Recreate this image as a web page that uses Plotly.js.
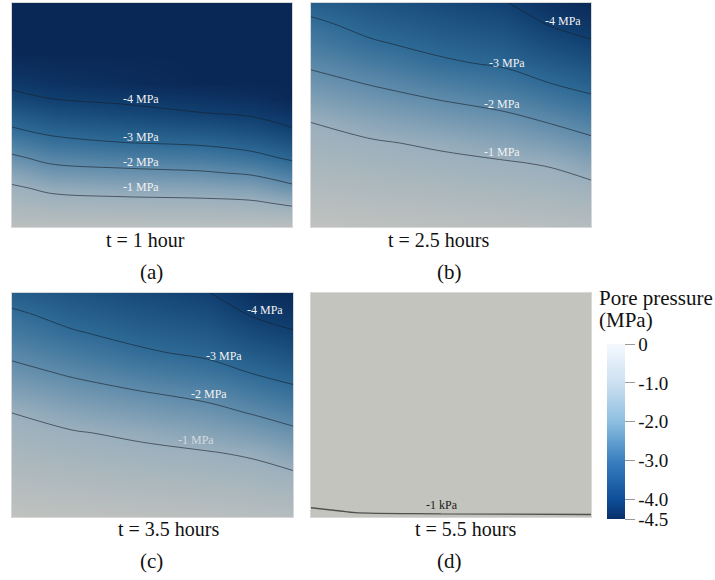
<!DOCTYPE html>
<html><head><meta charset="utf-8">
<script src="https://cdn.plot.ly/plotly-3.0.1.min.js"></script>
<style>html,body{margin:0;padding:0;background:#fff}#chart{width:715px;height:580px}</style>
</head><body><div id="chart"></div>
<script>
// ---------- DATA (pore pressure, MPa) ----------
// grid columns: distance across panel; rows: depth from panel top
const xA = [0, 40, 110, 190, 240, 280];
const yA = [0, 50, 80, 95, 110, 125, 140, 155, 170, 185, 200, 212, 224];
const zA = [
 [-4.5, -4.5, -4.5, -4.5, -4.5, -4.5],
 [-4.5, -4.5, -4.5, -4.5, -4.5, -4.5],
 [-4.15, -4.27, -4.38, -4.5, -4.5, -4.5],
 [-3.82, -4.02, -4.13, -4.25, -4.33, -4.5],
 [-3.40, -3.63, -3.81, -3.99, -4.09, -4.25],
 [-2.97, -3.24, -3.40, -3.55, -3.72, -3.99],
 [-2.41, -2.78, -2.98, -3.10, -3.29, -3.55],
 [-1.86, -2.22, -2.39, -2.52, -2.77, -3.11],
 [-1.33, -1.68, -1.81, -1.92, -2.09, -2.49],
 [-0.90, -1.14, -1.26, -1.34, -1.47, -1.82],
 [-0.65, -0.76, -0.81, -0.84, -0.90, -1.12],
 [-0.45, -0.51, -0.53, -0.55, -0.57, -0.67],
 [-0.25, -0.25, -0.25, -0.25, -0.25, -0.25]
];

const xB = [0, 60, 130, 195, 240, 280];
const yB = [0, 20, 40, 60, 80, 100, 120, 140, 160, 180, 200, 224];
const zB = [
 [-3.26, -3.50, -3.75, -3.98, -4.30, -4.45],
 [-2.88, -3.23, -3.48, -3.69, -4.06, -4.21],
 [-2.51, -2.93, -3.21, -3.40, -3.73, -3.95],
 [-2.13, -2.49, -2.90, -3.11, -3.37, -3.59],
 [-1.75, -2.05, -2.42, -2.69, -3.01, -3.23],
 [-1.37, -1.65, -1.94, -2.20, -2.52, -2.81],
 [-0.99, -1.26, -1.52, -1.75, -2.02, -2.31],
 [-0.82, -0.93, -1.10, -1.33, -1.54, -1.82],
 [-0.65, -0.75, -0.85, -0.95, -1.06, -1.35],
 [-0.48, -0.56, -0.64, -0.73, -0.80, -0.94],
 [-0.31, -0.37, -0.44, -0.51, -0.57, -0.67],
 [-0.10, -0.15, -0.20, -0.25, -0.30, -0.35]
];

const xC = [0, 60, 130, 195, 240, 280];
const yC = [0, 20, 40, 60, 80, 100, 120, 140, 160, 180, 200, 224];
const zC = [
 [-3.29, -3.51, -3.76, -3.98, -4.31, -4.46],
 [-2.91, -3.24, -3.49, -3.70, -4.07, -4.22],
 [-2.53, -2.94, -3.22, -3.41, -3.74, -3.96],
 [-2.15, -2.52, -2.91, -3.13, -3.39, -3.60],
 [-1.77, -2.09, -2.45, -2.71, -3.02, -3.24],
 [-1.38, -1.69, -1.96, -2.21, -2.53, -2.82],
 [-1.00, -1.29, -1.54, -1.77, -2.04, -2.32],
 [-0.82, -0.95, -1.12, -1.35, -1.56, -1.83],
 [-0.65, -0.76, -0.86, -0.96, -1.08, -1.36],
 [-0.48, -0.57, -0.65, -0.74, -0.81, -0.95],
 [-0.31, -0.38, -0.45, -0.52, -0.58, -0.68],
 [-0.10, -0.15, -0.20, -0.25, -0.30, -0.35]
];

const xD = [0, 44, 130, 280];
const yD = [0, 110, 200, 212, 218, 222, 224];
const zD = [
 [-0.0002, -0.0002, -0.0002, -0.0002],
 [-0.0005, -0.0005, -0.0005, -0.0005],
 [-0.0008, -0.0008, -0.0008, -0.0008],
 [-0.00095, -0.00090, -0.00088, -0.00085],
 [-0.00106, -0.00097, -0.00095, -0.00093],
 [-0.00112, -0.00104, -0.00102, -0.00101],
 [-0.00115, -0.00108, -0.00106, -0.00104]
];

const panelTimes = ['t = 1 hour', 't = 2.5 hours', 't = 3.5 hours', 't = 5.5 hours'];
const panelLetters = ['(a)', '(b)', '(c)', '(d)'];
const labelsA = ['-4 MPa', '-3 MPa', '-2 MPa', '-1 MPa'];
const labelsB = ['-4 MPa', '-3 MPa', '-2 MPa', '-1 MPa'];
const labelsC = ['-4 MPa', '-3 MPa', '-2 MPa', '-1 MPa'];
const labelsD = ['-1 kPa'];
const barTicks = [0, -1, -2, -3, -4, -4.5];
const barTickText = ['0', '-1.0', '-2.0', '-3.0', '-4.0', '-4.5'];
const barTitle = ['Pore pressure', '(MPa)'];

// ---------- STYLE ----------
const FONT = 'Liberation Serif, Times New Roman, serif';
const panelScale = [
 [0, 'rgb(10,40,86)'], [0.111, 'rgb(16,63,112)'], [0.333, 'rgb(46,106,150)'],
 [0.556, 'rgb(96,140,171)'], [0.778, 'rgb(154,175,189)'], [1, 'rgb(196,196,190)']
];
const barScale = [
 [0, '#08306b'], [0.111, '#0d4e98'], [0.333, '#3a80c0'],
 [0.556, '#8dbfe0'], [0.778, '#cde0f1'], [1, '#f5f9fe']
];
const W = 715, H = 580;
const doms = [
 {x: [12, 292], y: [3, 227]}, {x: [311, 591], y: [3, 227]},
 {x: [12, 293], y: [293, 517]}, {x: [311, 591], y: [293, 517]}
];
const grids = [[xA, yA, zA], [xB, yB, zB], [xC, yC, zC], [xD, yD, zD]];
const contourSets = [
 {start: -4, end: -1, size: 1}, {start: -4, end: -1, size: 1},
 {start: -4, end: -1, size: 1}, {start: -0.001, end: -0.001, size: 0.001}
];
const traces = [];
const layout = {
 width: W, height: H, margin: {l: 0, r: 0, t: 0, b: 0},
 paper_bgcolor: '#fff', plot_bgcolor: '#fff', showlegend: false,
 font: {family: FONT, color: '#111'}, annotations: []
};
grids.forEach((g, i) => {
 const sfx = i === 0 ? '' : String(i + 1);
 traces.push({
  type: 'contour', x: g[0], y: g[1], z: g[2], xaxis: 'x' + sfx, yaxis: 'y' + sfx,
  zmin: -4.5, zmax: 0, colorscale: panelScale, showscale: false, autocontour: false,
  contours: Object.assign({coloring: 'heatmap', showlabels: false}, contourSets[i]),
  line: {color: i === 3 ? 'rgba(60,60,60,0.85)' : 'rgba(25,30,40,0.6)', width: i === 3 ? 1.3 : 1, smoothing: 1},
  hoverinfo: 'skip'
 });
 const d = doms[i];
 layout['xaxis' + sfx] = {domain: [d.x[0] / W, d.x[1] / W], range: [0, 280], anchor: 'y' + sfx,
  showgrid: false, zeroline: false, showticklabels: false, ticks: '', showline: true, mirror: true,
  linecolor: 'rgba(200,200,200,0.7)', linewidth: 1, fixedrange: true};
 layout['yaxis' + sfx] = {domain: [1 - d.y[1] / H, 1 - d.y[0] / H], range: [224, 0], anchor: 'x' + sfx,
  showgrid: false, zeroline: false, showticklabels: false, ticks: '', showline: true, mirror: true,
  linecolor: 'rgba(200,200,200,0.7)', linewidth: 1, fixedrange: true};
});

// colorbar (own scale)
traces.push({
 type: 'scatter', mode: 'markers', x: [140], y: [112], xaxis: 'x4', yaxis: 'y4', hoverinfo: 'skip',
 marker: {size: 1, opacity: 0, color: [0], cmin: -4.5, cmax: 0, colorscale: barScale, showscale: true,
  colorbar: {x: 607 / W, xanchor: 'left', xpad: 0, ypad: 0, y: 1 - 431.5 / H, yanchor: 'middle',
   len: 175, lenmode: 'pixels', thickness: 18, thicknessmode: 'pixels', outlinewidth: 0,
   tickmode: 'array', tickvals: barTicks, ticktext: barTickText, ticks: 'outside', ticklen: 10,
   tickwidth: 1, tickcolor: '#999', tickfont: {family: FONT, size: 19, color: '#111'}, title: {text: ''}}}
});

// panel captions
const timePos = [[145, 240], [438, 240], [168, 529], [465, 529]];
const letterPos = [[151, 272], [449, 272], [151, 561], [449, 561]];
panelTimes.forEach((t, i) => {
 layout.annotations.push({text: t, xref: 'paper', yref: 'paper', x: timePos[i][0] / W, y: 1 - timePos[i][1] / H,
  xanchor: 'center', yanchor: 'middle', showarrow: false, font: {family: FONT, size: 20, color: '#111'}});
 layout.annotations.push({text: panelLetters[i], xref: 'paper', yref: 'paper', x: letterPos[i][0] / W, y: 1 - letterPos[i][1] / H,
  xanchor: 'center', yanchor: 'middle', showarrow: false, font: {family: FONT, size: 21, color: '#111'}});
});
// colorbar title
barTitle.forEach((t, i) => {
 layout.annotations.push({text: t, xref: 'paper', yref: 'paper', x: 597 / W, y: 1 - (298 + 22 * i) / H,
  xanchor: 'left', yanchor: 'middle', showarrow: false, font: {family: FONT, size: 21, color: '#111'}});
});
// contour labels
const labelSets = [labelsA, labelsB, labelsC, labelsD];
const labelPos = [
 [[129, 96], [129, 134], [129, 159], [129, 184]],
 [[252, 18], [196, 60], [191, 101], [191, 149]],
 [[252, 17], [211, 63], [196, 101], [183, 147]],
 [[131, 212]]
];
const labelColors = [
 ['#f2f2f2', '#f2f2f2', '#f2f2f2', '#f2f2f2'],
 ['#f2f2f2', '#f2f2f2', '#f2f2f2', '#f2f2f2'],
 ['#f2f2f2', '#f2f2f2', '#f2f2f2', 'rgba(235,235,235,0.75)'],
 ['#1a1a1a']
];
labelSets.forEach((set, i) => {
 const sfx = i === 0 ? '' : String(i + 1);
 set.forEach((t, j) => {
  layout.annotations.push({text: t, xref: 'x' + sfx, yref: 'y' + sfx, x: labelPos[i][j][0], y: labelPos[i][j][1],
   xanchor: 'center', yanchor: 'middle', showarrow: false, font: {family: FONT, size: 12, color: labelColors[i][j]}});
 });
});

Plotly.newPlot('chart', traces, layout, {staticPlot: true, displayModeBar: false});
</script></body></html>
